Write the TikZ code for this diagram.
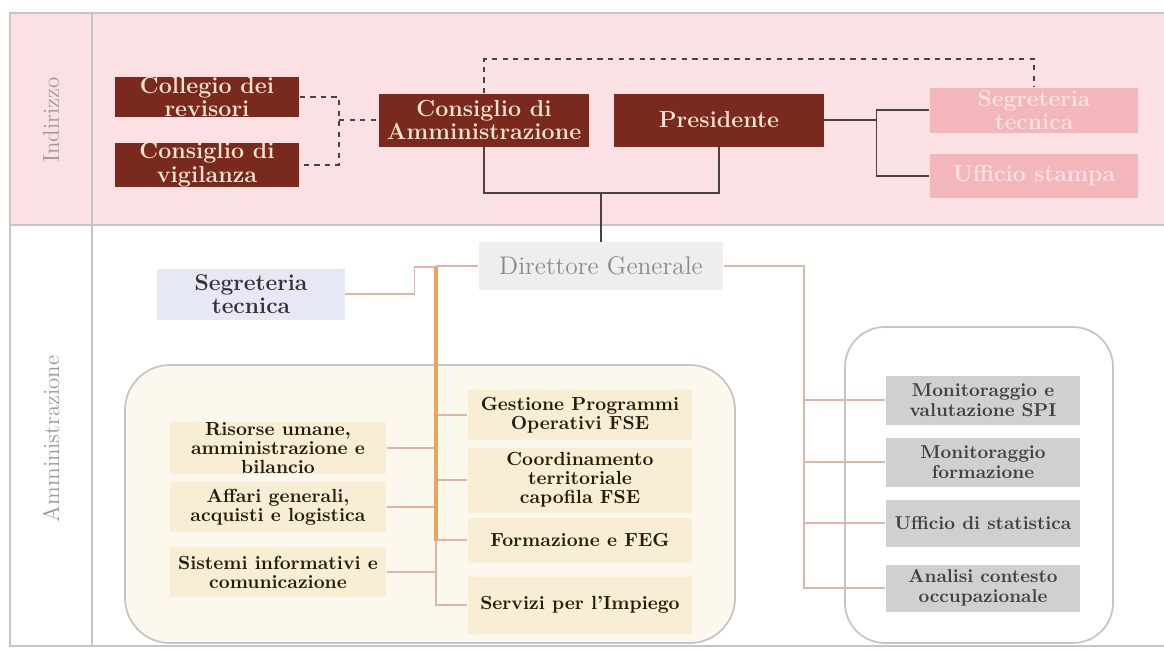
\documentclass[tikz,border=0pt]{standalone}
\usepackage{tikz}
\usetikzlibrary{calc}

\definecolor{bandpink}{HTML}{FBE1E3}
\definecolor{boxbrown}{HTML}{7A2A1C}
\definecolor{browntext}{HTML}{F4E4D4}
\definecolor{fadedpink}{HTML}{F3B6BB}
\definecolor{fadedtext}{HTML}{FBE4E6}
\definecolor{framegrey}{HTML}{C8C4C4}
\definecolor{labelgrey}{HTML}{9C9898}
\definecolor{dgfill}{HTML}{EEEEEE}
\definecolor{dgtext}{HTML}{8A8A8A}
\definecolor{bluefill}{HTML}{E6E8F6}
\definecolor{creamfill}{HTML}{F9EDD3}
\definecolor{creambg}{HTML}{FDF8EE}
\definecolor{greyfill}{HTML}{D0D0D0}
\definecolor{trunkorange}{HTML}{EFA25C}
\definecolor{salmonline}{HTML}{E2B4A4}
\definecolor{darkline}{HTML}{4A4242}

\tikzset{
  brownbox/.style={fill=boxbrown, text=browntext, align=center, inner sep=0pt,
    font=\fontsize{13.2}{13.5}\selectfont\bfseries},
  fadedbox/.style={fill=fadedpink, text=fadedtext, align=center, inner sep=0pt,
    font=\fontsize{13}{13.5}\selectfont\bfseries},
  creambox/.style={fill=creamfill, text=black!80!brown, align=center, inner sep=0pt,
    font=\fontsize{10.8}{10.8}\selectfont\bfseries},
  greybox/.style={fill=greyfill, text=black!75, align=center, inner sep=0pt,
    font=\fontsize{10.6}{11.2}\selectfont\bfseries},
  bandlabel/.style={text=labelgrey, rotate=90, font=\fontsize{13}{14}\selectfont},
  dashline/.style={darkline, dashed, line width=0.7pt},
  solidline/.style={darkline, line width=0.9pt},
  thinline/.style={salmonline, line width=0.9pt},
  trunk/.style={trunkorange, line width=2.4pt}
}

\begin{document}
\begin{tikzpicture}[x=0.02cm, y=-0.02cm]

	\useasboundingbox (0,0) rectangle (1164,650);

	% bands and frame
	\fill[white] (0,0) rectangle (1164,650);
	\fill[bandpink] (10,13) rectangle (1164,225);
	\draw[framegrey, line width=1pt] (1164,13) -- (10,13) -- (10,646) -- (1164,646);
	\draw[framegrey, line width=1pt] (92,13) -- (92,646);
	\draw[framegrey, line width=1pt] (10,225) -- (1164,225);

	\node[bandlabel] (lindirizzo) at (51,120) {Indirizzo};
	\node[bandlabel] (lamministrazione) at (51,439) {Amministrazione};

	% Indirizzo
	\node[brownbox, minimum width=3.7cm, minimum height=0.8cm] (collegio) at (207,97) {Collegio dei\\revisori};
	\node[brownbox, minimum width=3.7cm, minimum height=0.88cm] (vigilanza) at (207,165) {Consiglio di\\vigilanza};
	\node[brownbox, minimum width=4.22cm, minimum height=1.06cm] (cda) at (484,120) {Consiglio di\\Amministrazione};
	\node[brownbox, minimum width=4.2cm, minimum height=1.06cm] (presidente) at (719,120) {Presidente};
	\node[fadedbox, minimum width=4.18cm, minimum height=0.9cm] (segtop) at (1034,110) {Segreteria\\tecnica};
	\node[fadedbox, minimum width=4.18cm, minimum height=0.88cm] (stampa) at (1034,176) {Ufficio stampa};

	\coordinate (cj) at (339,120);
	\coordinate (topline) at (0,59);
	\coordinate (bus) at (0,193);

	\draw[dashline] (collegio.east) -| (cj) |- (vigilanza.east);
	\draw[dashline] (cj) -- (cda.west);
	\draw[dashline] (cda.north) -- (cda.north |- topline) -| (segtop.north);

	\draw[solidline] (presidente.east) -- ++(52,0) coordinate (pj);
	\draw[solidline] (segtop.west) -| (pj) |- (stampa.west);
	\draw[solidline] (cda.south) |- (presidente.south |- bus) -- (presidente.south);

	% Amministrazione
	\filldraw[fill=creambg, draw=framegrey, line width=1pt, rounded corners=0.9cm] (125,365) rectangle (735,643);
	\filldraw[fill=white, draw=framegrey, line width=1pt, rounded corners=0.8cm] (845,327) rectangle (1113,643);

	\node[fill=dgfill, text=dgtext, minimum width=4.9cm, minimum height=0.96cm, inner sep=0pt,
		font=\fontsize{14.5}{15}\selectfont] (dg) at (601,266) {Direttore Generale};
	\node[fill=bluefill, text=black!80, align=center, inner sep=0pt, minimum width=3.76cm, minimum height=1.02cm,
		font=\fontsize{13}{13.5}\selectfont\bfseries] (segbasso) at (251,294) {Segreteria\\tecnica};

	\draw[solidline] (dg.north |- bus) -- (dg.north);

	\node[creambox, minimum width=4.34cm, minimum height=1.04cm] (risorse) at (278,448) {Risorse umane,\\amministrazione e\\bilancio};
	\node[creambox, minimum width=4.34cm, minimum height=1cm] (affari) at (278,507) {Affari generali,\\acquisti e logistica};
	\node[creambox, minimum width=4.34cm, minimum height=1cm] (sistemi) at (278,572) {Sistemi informativi e\\comunicazione};

	\node[creambox, minimum width=4.5cm, minimum height=1cm] (gestione) at (580,415) {Gestione Programmi\\Operativi FSE};
	\node[creambox, minimum width=4.5cm, minimum height=1.3cm] (coord) at (580,480) {Coordinamento\\territoriale\\capofila FSE};
	\node[creambox, minimum width=4.5cm, minimum height=0.9cm] (formaz) at (580,540) {Formazione e FEG};
	\node[creambox, minimum width=4.5cm, minimum height=1.14cm] (servizi) at (580,605) {Servizi per l'Impiego};

	\node[greybox, minimum width=3.9cm, minimum height=0.98cm] (monspi) at (983,400) {Monitoraggio e\\valutazione SPI};
	\node[greybox, minimum width=3.9cm, minimum height=0.98cm] (monform) at (983,462) {Monitoraggio\\formazione};
	\node[greybox, minimum width=3.9cm, minimum height=0.94cm] (statist) at (983,523) {Ufficio di statistica};
	\node[greybox, minimum width=3.9cm, minimum height=0.94cm] (analisi) at (983,588) {Analisi contesto\\occupazionale};

	\coordinate (trunktop) at (436,267);
	\coordinate (trunkbot) at (436,541);
	\coordinate (rtrunk) at (804,266);

	% left tree
	\draw[thinline] (dg.west) -- (dg.west -| trunktop);
	\draw[thinline] (segbasso.east) -- ++(69,0) |- (trunktop);
	\draw[thinline] (risorse.east) -- (risorse.east -| trunktop);
	\draw[thinline] (affari.east) -- (affari.east -| trunktop);
	\draw[thinline] (sistemi.east) -- (sistemi.east -| trunktop);
	\draw[thinline] (gestione.west -| trunktop) -- (gestione.west);
	\draw[thinline] (coord.west -| trunktop) -- (coord.west);
	\draw[thinline] (formaz.west -| trunktop) -- (formaz.west);
	\draw[thinline] (trunkbot) |- (servizi.west);
	\draw[trunk] (trunktop) -- (trunkbot);

	% right tree
	\draw[thinline] (dg.east) -- (rtrunk) |- (analisi.west);
	\draw[thinline] (monspi.west -| rtrunk) -- (monspi.west);
	\draw[thinline] (monform.west -| rtrunk) -- (monform.west);
	\draw[thinline] (statist.west -| rtrunk) -- (statist.west);

\end{tikzpicture}
\end{document}
